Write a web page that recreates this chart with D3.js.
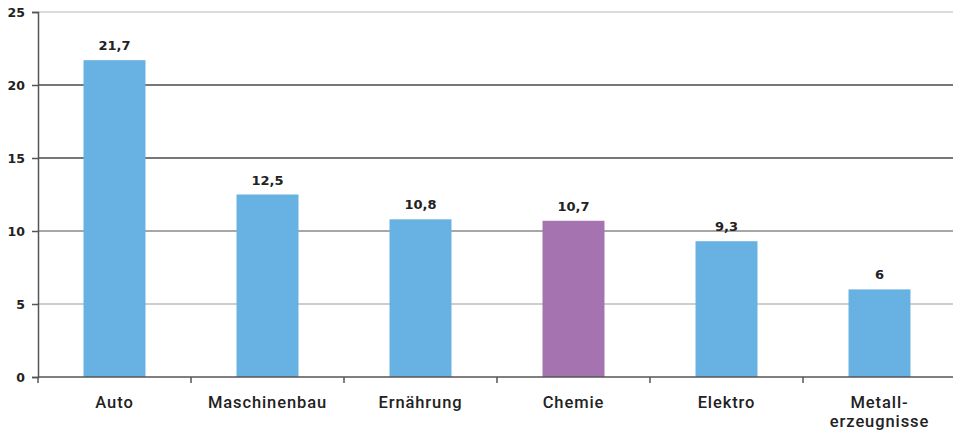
<!DOCTYPE html>
<html>
<head>
<meta charset="utf-8">
<script src="https://cdn.jsdelivr.net/npm/d3@7"></script>
<style>
  body { margin: 0; background: #fff; }
  .val { font: bold 13px "DejaVu Sans", Verdana, sans-serif; fill: #222; }
  .ytick { font: bold 12.5px "DejaVu Sans", Verdana, sans-serif; fill: #222; }
  .cat { font: 500 16.5px Roboto, "Liberation Sans", sans-serif; fill: #222; letter-spacing: 0.9px; }
</style>
</head>
<body>
<svg id="chart" width="953" height="435"></svg>
<script>
// data
var categories = ["Auto", "Maschinenbau", "Ernährung", "Chemie", "Elektro", "Metall-\nerzeugnisse"];
var values = [21.7, 12.5, 10.8, 10.7, 9.3, 6];
var yTicks = [0, 5, 10, 15, 20, 25];

var highlight = "Chemie";

var svg = d3.select("#chart");
// note: "top" is taken by window.top, so use other names
var mLeft = 38, mRight = 956, mTop = 12, mBottom = 377;

var x = d3.scaleBand().domain(categories).range([mLeft, mRight])
  .paddingInner(0.595).paddingOuter(0.2975);
var y = d3.scaleLinear().domain([0, 25]).range([mBottom, mTop]);

// gridlines (scan shows mixed greys)
var gridColor = function (t) { return t == 25 ? "#cfcfcf" : t == 5 ? "#bdbdbd" : t == 10 ? "#8a8a8a" : "#4a4a4a"; };
svg.append("g").selectAll("line")
  .data(yTicks.filter(function (t) { return t > 0; }))
  .enter().append("line")
  .attr("x1", mLeft).attr("x2", 953)
  .attr("y1", function (d) { return y(d); }).attr("y2", function (d) { return y(d); })
  .attr("stroke", gridColor).attr("stroke-width", 1.5);

// bars
svg.append("g").selectAll("rect")
  .data(values)
  .enter().append("rect")
  .attr("x", function (d, i) { return x(categories[i]); })
  .attr("width", x.bandwidth())
  .attr("y", function (d) { return y(d); })
  .attr("height", function (d) { return y(0) - y(d); })
  .attr("fill", function (d, i) { return categories[i] == highlight ? "#a673b1" : "#67b2e3"; });

// value labels
svg.append("g").selectAll("text")
  .data(values)
  .enter().append("text")
  .attr("class", "val")
  .attr("text-anchor", "middle")
  .attr("x", function (d, i) { return x(categories[i]) + x.bandwidth() / 2; })
  .attr("y", function (d) { return y(d) - 10; })
  .text(function (d) { return String(d).replace(".", ","); });

// y axis
var yAxis = d3.axisLeft(y).tickValues(yTicks).tickSize(6).tickPadding(7).tickFormat(d3.format("d"));
var gy = svg.append("g").attr("transform", "translate(" + mLeft + ",0)").call(yAxis);
gy.select(".domain").attr("stroke", "#555").attr("stroke-width", 1.5);
gy.selectAll(".tick line").attr("stroke", "#555").attr("stroke-width", 1.5);
gy.selectAll(".tick text").attr("class", "ytick");
gy.attr("font-family", null).attr("font-size", null);

// x axis
var gx = svg.append("g").attr("transform", "translate(0," + mBottom + ")");
gx.append("line").attr("x1", mLeft).attr("x2", 953).attr("stroke", "#555").attr("stroke-width", 1.5);
gx.selectAll(".xt")
  .data(categories)
  .enter().append("line")
  .attr("x1", function (d) { return x(d) - x.step() * x.paddingOuter(); })
  .attr("x2", function (d) { return x(d) - x.step() * x.paddingOuter(); })
  .attr("y1", 0).attr("y2", 6)
  .attr("stroke", "#555").attr("stroke-width", 1.5);

var cats = gx.selectAll(".cat")
  .data(categories)
  .enter().append("text")
  .attr("class", "cat")
  .attr("text-anchor", "middle")
  .attr("transform", function (d) { return "translate(" + (x(d) + x.bandwidth() / 2) + ",31)"; });
cats.selectAll("tspan")
  .data(function (d) { return d.split("\n"); })
  .enter().append("tspan")
  .attr("x", 0)
  .attr("dy", function (d, i) { return i ? 19 : 0; })
  .text(function (d) { return d; });
</script>
</body>
</html>
